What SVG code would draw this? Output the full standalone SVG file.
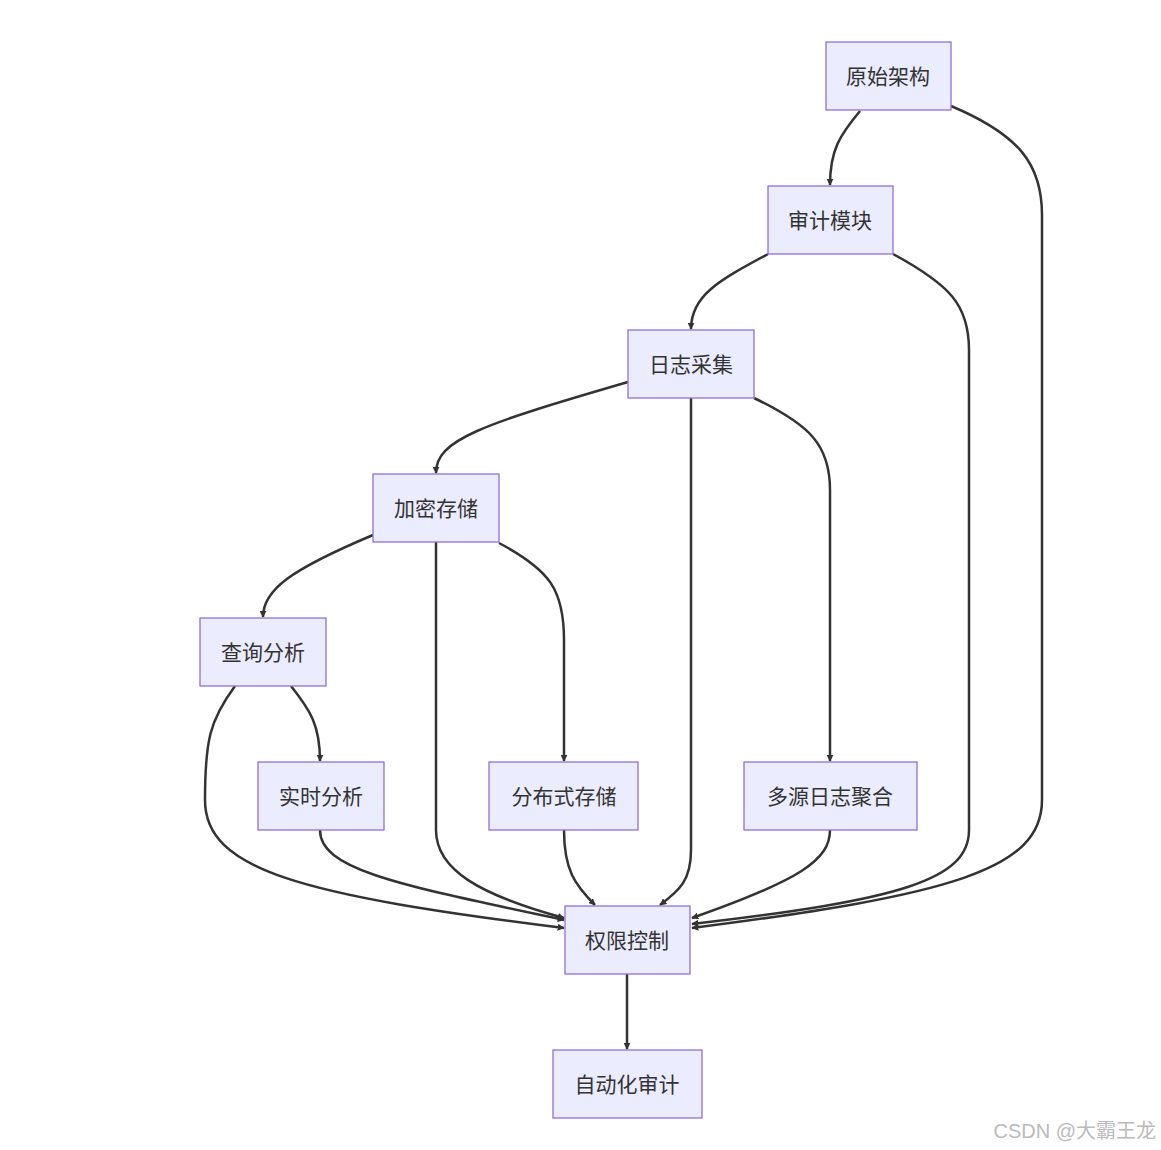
<svg xmlns="http://www.w3.org/2000/svg" width="1161" height="1150" viewBox="0 0 1161 1150">
<style>
.n rect{fill:#ECECFF;stroke:#9370DB;stroke-width:1.3}
.n text{font-family:"Liberation Sans","Noto Sans CJK SC",sans-serif;font-size:21px;fill:#333;text-anchor:middle;dominant-baseline:central}
.e path{fill:none;stroke:#333;stroke-width:2.5;marker-end:url(#a)}
</style>
<defs><marker id="a" viewBox="0 0 10 10" refX="9" refY="5" markerWidth="7" markerHeight="7" markerUnits="userSpaceOnUse" orient="auto"><path d="M0,0L10,5L0,10z" fill="#333"/></marker></defs>
<rect width="1161" height="1150" fill="#fff"/>
<g class="e">
<path d="M860,111 C840,135 830,150 830,185"/>
<path d="M951,106 C1020,135 1042,165 1042,215 L1042,800 C1042,870 950,895 692,928"/>
<path d="M768,254 C720,280 691,295 691,329"/>
<path d="M893,254 C950,285 969,305 969,350 L969,830 C969,880 900,900 692,924"/>
<path d="M628,382 C480,425 436,440 436,473"/>
<path d="M691,398 L691,850 C691,880 680,890 660,905"/>
<path d="M754,398 C810,425 830,445 830,490 L830,761"/>
<path d="M373,535 C290,570 263,590 263,617"/>
<path d="M436,542 L436,830 C436,870 480,895 564,918"/>
<path d="M499,543 C550,570 564,590 564,640 L564,761"/>
<path d="M291,686 C310,710 320,725 320,761"/>
<path d="M235,686 C210,720 205,740 205,800 C205,870 300,895 564,928"/>
<path d="M320,830 C320,870 400,885 564,920"/>
<path d="M564,830 C564,870 575,885 595,905"/>
<path d="M830,830 C830,860 800,880 692,918"/>
<path d="M627,974 L627,1049"/>
</g>
<g id="n1" class="n"><rect x="826" y="42" width="125" height="68"/><text x="888" y="76">原始架构</text></g>
<g id="n2" class="n"><rect x="768" y="186" width="125" height="68"/><text x="830" y="220">审计模块</text></g>
<g id="n3" class="n"><rect x="628" y="330" width="126" height="68"/><text x="691" y="364">日志采集</text></g>
<g id="n4" class="n"><rect x="373" y="474" width="126" height="68"/><text x="436" y="508">加密存储</text></g>
<g id="n5" class="n"><rect x="200" y="618" width="126" height="68"/><text x="263" y="652">查询分析</text></g>
<g id="n6" class="n"><rect x="258" y="762" width="126" height="68"/><text x="321" y="796">实时分析</text></g>
<g id="n7" class="n"><rect x="489" y="762" width="149" height="68"/><text x="564" y="796">分布式存储</text></g>
<g id="n8" class="n"><rect x="744" y="762" width="173" height="68"/><text x="830" y="796">多源日志聚合</text></g>
<g id="n9" class="n"><rect x="565" y="906" width="125" height="68"/><text x="627" y="940">权限控制</text></g>
<g id="n10" class="n"><rect x="553" y="1050" width="149" height="68"/><text x="627" y="1084">自动化审计</text></g>
<text x="1156" y="1138" text-anchor="end" font-family="Liberation Sans,'Noto Sans CJK SC',sans-serif" font-size="20" fill="#bbb">CSDN @大霸王龙</text>
</svg>
